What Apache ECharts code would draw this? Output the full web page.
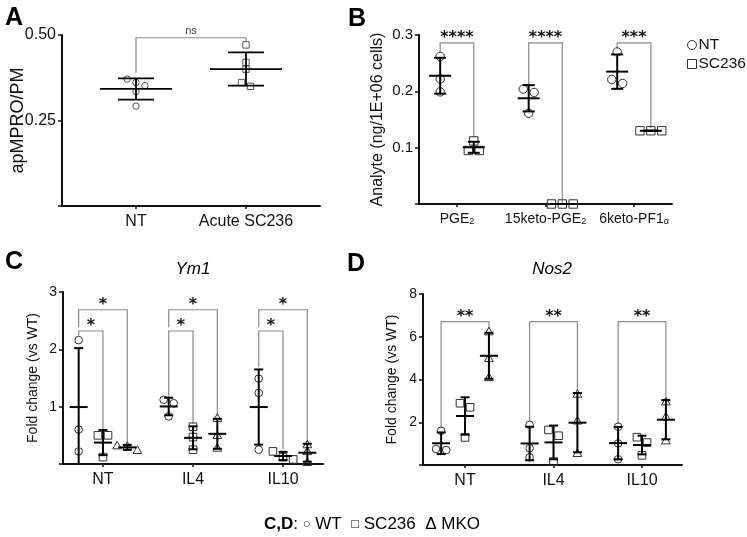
<!DOCTYPE html>
<html>
<head>
<meta charset="utf-8">
<script src="https://cdn.jsdelivr.net/npm/echarts@6/dist/echarts.min.js"></script>
<style>html,body{margin:0;padding:0;background:#fff}#chart{width:747px;height:537px}</style>
</head>
<body>
<div id="chart"></div>
<script>
// ---------- DATA ----------
// Panel A
const catA = ['NT', 'Acute SC236'];
const aNT = [0.371, 0.352, 0.361, 0.335, 0.292];
const aSC236 = [0.471, 0.420, 0.400, 0.350, 0.361];
const aSigText = ['ns'];
const aSigTop = [0.492];
const aSigLeftEnd = [0.389];
const aSigRightEnd = [0.482];

// Panel B
const catB = [['PGE', '2'], ['15keto-PGE', '2'], ['6keto-PF1', 'α']];
const bNT = [[0.262, 0.222, 0.199], [0.204, 0.198, 0.161], [0.270, 0.221, 0.214]];
const bSC236 = [[0.112, 0.095, 0.095], [0, 0, 0], [0.130, 0.130, 0.130]];
const bSigText = ['****', '****', '***'];
const bSigTop = [0.286, 0.286, 0.286];
const bSigLeftEnd = [0.268, 0.213, 0.276];
const bSigRightEnd = [0.118, 0.0, 0.135];
const bLegend = ['NT', 'SC236'];

// Panels C and D
const catCD = ['NT', 'IL4', 'IL10'];
const cWT = [[2.16, 0.60, 0.22], [1.12, 1.06, 0.83], [1.49, 1.24, 0.25]];
const cSC236 = [[0.50, 0.50, 0.12], [0.65, 0.47, 0.25], [0.22, 0.12, 0.08]];
const cMKO = [[0.32, 0.31, 0.24], [0.80, 0.50, 0.28], [0.34, 0.22, 0.03]];
const cSigShortText = ['*', '*', '*'];
const cSigShortTop = [2.32, 2.32, 2.32];
const cSigShortLeftEnd = [2.24, 1.17, 1.69];
const cSigShortRightEnd = [0.56, 0.70, 0.26];
const cSigLongText = ['*', '*', '*'];
const cSigLongTop = [2.69, 2.69, 2.69];
const cSigLongLeftEnd = [2.38, 2.38, 2.38];
const cSigLongRightEnd = [0.36, 0.84, 0.38];

const dWT = [[1.60, 0.70, 0.75], [1.88, 0.78, 0.36], [1.79, 1.01, 0.27]];
const dSC236 = [[2.89, 2.70, 1.29], [1.64, 1.37, 0.16], [1.30, 1.05, 0.45]];
const dMKO = [[6.24, 4.99, 4.10], [3.32, 2.07, 0.55], [2.96, 2.26, 1.14]];
const dSigText = ['**', '**', '**'];
const dSigTop = [6.71, 6.71, 6.71];
const dSigLeftEnd = [1.76, 2.02, 1.92];
const dSigRightEnd = [6.36, 3.45, 3.10];

// ---------- HELPERS ----------
const FONT = "'Liberation Sans', Arial, Helvetica, sans-serif";
const INK = '#111';
function mean(a) { return a.reduce((s, v) => s + v, 0) / a.length; }
function sdev(a) { const m = mean(a); return Math.sqrt(a.reduce((s, v) => s + (v - m) * (v - m), 0) / (a.length - 1)); }

function symbolEl(kind, cx, cy, r, color) {
  const style = { fill: 'rgba(0,0,0,0)', stroke: color, lineWidth: 1 };
  if (kind === 'circle') return { type: 'circle', shape: { cx, cy, r }, style };
  if (kind === 'rect') return { type: 'rect', shape: { x: cx - r, y: cy - r, width: 2 * r, height: 2 * r }, style };
  return { type: 'polygon', shape: { points: [[cx, cy - r * 1.15], [cx - r * 1.15, cy + r * 0.85], [cx + r * 1.15, cy + r * 0.85]] }, style };
}

function swarm(vals, api, xv, r) {
  const pts = vals.map(v => ({ v, y: api.coord([xv, v])[1] })).sort((a, b) => a.y - b.y);
  const clusters = [];
  pts.forEach(p => {
    const last = clusters[clusters.length - 1];
    if (last && Math.abs(p.y - last[last.length - 1].y) < r * 1.7) last.push(p);
    else clusters.push([p]);
  });
  const out = [];
  clusters.forEach(c => c.forEach((p, k) => out.push({ y: p.y, dx: (k - (c.length - 1) / 2) * (2 * r + 2.5) })));
  return out;
}

function statSeries(o) {
  return {
    type: 'custom', name: o.name, xAxisIndex: o.ax, yAxisIndex: o.ax, z: 5, silent: true,
    data: o.groups.map((vals, g) => [g + o.off, mean(vals)]),
    encode: { x: 0, y: 1 },
    renderItem(params, api) {
      const vals = o.groups[params.dataIndex];
      const xv = api.value(0);
      const m = mean(vals), s = sdev(vals);
      const c = api.coord([xv, m]);
      const yTop = api.coord([xv, m + s])[1];
      const yBotRaw = api.coord([xv, m - s])[1];
      const yFloor = api.coord([xv, 0])[1];
      const clipped = yBotRaw > yFloor + 0.5;
      const yBot = clipped ? yFloor : yBotRaw;
      const children = [];
      swarm(vals, api, xv, o.r).forEach(p => children.push(symbolEl(o.kind, c[0] + p.dx, p.y, o.r, o.ptColor)));
      const ls = { stroke: '#000', lineWidth: o.lw };
      children.push({ type: 'line', shape: { x1: c[0] - o.meanHalf, y1: c[1], x2: c[0] + o.meanHalf, y2: c[1] }, style: ls });
      children.push({ type: 'line', shape: { x1: c[0], y1: yTop, x2: c[0], y2: yBot }, style: ls });
      children.push({ type: 'line', shape: { x1: c[0] - o.capHalf, y1: yTop, x2: c[0] + o.capHalf, y2: yTop }, style: ls });
      if (!clipped) children.push({ type: 'line', shape: { x1: c[0] - o.capHalf, y1: yBot, x2: c[0] + o.capHalf, y2: yBot }, style: ls });
      return { type: 'group', children };
    }
  };
}

function bracketSeries(ax, items, textStyle, dy) {
  return {
    type: 'custom', xAxisIndex: ax, yAxisIndex: ax, z: 4, silent: true,
    data: items.map(b => [b.x0, b.top]),
    encode: { x: 0, y: 1 },
    renderItem(params, api) {
      const b = items[params.dataIndex];
      const pL = api.coord([b.x0, b.top]), pR = api.coord([b.x1, b.top]);
      const yl = api.coord([b.x0, b.l])[1], yr = api.coord([b.x1, b.r])[1];
      return {
        type: 'group', children: [
          { type: 'polyline', shape: { points: [[pL[0], yl], [pL[0], pL[1]], [pR[0], pR[1]], [pR[0], yr]] }, style: { stroke: '#8a8a8a', lineWidth: 1.2, fill: null } },
          { type: 'text', x: (pL[0] + pR[0]) / 2, y: pL[1] + dy, style: Object.assign({ text: b.text, align: 'center', verticalAlign: 'middle' }, textStyle) }
        ]
      };
    }
  };
}

function brackets(g0off, g1off, text, top, l, r) {
  return text.map((t, g) => ({ x0: g + g0off, x1: g + g1off, top: top[g], l: l[g], r: r[g], text: t }));
}

function xAxisCfg(grid, min, max, cats, fontSize, extraLabel) {
  const vals = cats.map((_, i) => i);
  return {
    gridIndex: grid, type: 'value', min, max,
    axisLine: { show: true, onZero: false, lineStyle: { color: INK, width: 2 } },
    axisTick: { show: true, customValues: vals, length: 3, lineStyle: { color: INK, width: 1.5 } },
    axisLabel: Object.assign({ show: true, customValues: vals, fontSize, color: INK, fontFamily: FONT, margin: 8,
      formatter: v => cats[Math.round(v)] }, extraLabel || {}),
    splitLine: { show: false }
  };
}

function yAxisCfg(grid, min, max, interval, fmt, fontSize, name, nameSize, nameGap) {
  return {
    gridIndex: grid, type: 'value', min, max, interval,
    name, nameLocation: 'middle', nameGap, nameRotate: 90, nameMoveOverlap: false,
    nameTextStyle: { fontSize: nameSize, color: INK, fontFamily: FONT },
    axisLine: { show: true, onZero: false, lineStyle: { color: INK, width: 2 } },
    axisTick: { show: true, length: 4, lineStyle: { color: INK, width: 1.5 } },
    axisLabel: { show: true, fontSize, color: INK, fontFamily: FONT, margin: 6, formatter: fmt },
    splitLine: { show: false }
  };
}

const offB = [-0.19, 0.19];
const offCD = [-0.27, 0, 0.27];
const starStyle = { font: "bold 16px 'DejaVu Sans', sans-serif", fill: '#111' };

const option = {
  animation: false,
  backgroundColor: '#fff',
  grid: [
    { left: 62, top: 35, width: 258, height: 171, outerBoundsMode: 'none' },
    { left: 419, top: 35, width: 253, height: 169, outerBoundsMode: 'none' },
    { left: 63, top: 292, width: 260, height: 172, outerBoundsMode: 'none' },
    { left: 423, top: 294, width: 259, height: 171, outerBoundsMode: 'none' }
  ],
  xAxis: [
    xAxisCfg(0, -0.673, 1.673, catA, 16),
    xAxisCfg(1, -0.429, 2.429, catB, 14, {
      formatter: v => { const c = catB[Math.round(v)]; return '{n|' + c[0] + '}{s|' + c[1] + '}'; },
      rich: { n: { fontSize: 14, color: INK, fontFamily: FONT, verticalAlign: 'bottom' }, s: { fontSize: 9, color: INK, fontFamily: FONT, verticalAlign: 'bottom' } }
    }),
    xAxisCfg(2, -0.444, 2.444, catCD, 16),
    xAxisCfg(3, -0.475, 2.452, catCD, 16)
  ],
  yAxis: [
    yAxisCfg(0, 0, 0.5, 0.25, v => v === 0 ? '' : v.toFixed(2), 16, 'apMPRO/PM', 18, 35),
    yAxisCfg(1, 0, 0.3, 0.1, v => v === 0 ? '' : v.toFixed(1), 15, 'Analyte (ng/1E+06 cells)', 16, 33),
    yAxisCfg(2, 0, 3, 1, v => v === 0 ? '' : String(v), 14, 'Fold change (vs WT)', 14, 23),
    yAxisCfg(3, 0, 8, 2, v => v === 0 ? '' : String(v), 14, 'Fold change (vs WT)', 14, 24)
  ],
  legend: {
    data: [
      { name: bLegend[0], icon: 'circle', itemStyle: { color: '#fff', borderColor: '#333', borderWidth: 1 } },
      { name: bLegend[1], icon: 'rect', itemStyle: { color: '#fff', borderColor: '#333', borderWidth: 1 } }
    ],
    orient: 'vertical', left: 687, top: 37, itemWidth: 9, itemHeight: 9, itemGap: 3,
    selectedMode: false, padding: 0,
    textStyle: { fontSize: 15.5, color: INK, fontFamily: FONT, padding: [0, 0, 0, -3] }
  },
  graphic: [
    { type: 'text', x: 5, y: 18, style: { text: 'A', font: 'bold 25px ' + FONT, fill: '#000', verticalAlign: 'middle' } },
    { type: 'text', x: 348, y: 19, style: { text: 'B', font: 'bold 25px ' + FONT, fill: '#000', verticalAlign: 'middle' } },
    { type: 'text', x: 5, y: 262, style: { text: 'C', font: 'bold 25px ' + FONT, fill: '#000', verticalAlign: 'middle' } },
    { type: 'text', x: 347, y: 264, style: { text: 'D', font: 'bold 25px ' + FONT, fill: '#000', verticalAlign: 'middle' } },
    { type: 'text', x: 193, y: 269, style: { text: 'Ym1', font: 'italic 17px ' + FONT, fill: '#000', align: 'center', verticalAlign: 'middle' } },
    { type: 'text', x: 552, y: 269, style: { text: 'Nos2', font: 'italic 17px ' + FONT, fill: '#000', align: 'center', verticalAlign: 'middle' } },
    { type: 'text', x: 372, y: 524, style: {
      text: '{b|C,D}{n|: }{s|○}{n| WT  }{s|□}{n| SC236  Δ MKO}',
      align: 'center', verticalAlign: 'middle',
      rich: {
        b: { fontSize: 17, fontWeight: 'bold', fontFamily: FONT, fill: '#000' },
        n: { fontSize: 17, fontFamily: FONT, fill: '#000' },
        s: { fontSize: 13, fontFamily: FONT, fill: '#000' }
      }
    } }
  ],
  series: [
    // Panel A
    bracketSeries(0, brackets(0, 1, aSigText, aSigTop, aSigLeftEnd, aSigRightEnd), { font: '11px ' + FONT, fill: '#444' }, -7),
    statSeries({ name: 'A NT', ax: 0, groups: [aNT], off: 0, kind: 'circle', r: 3.2, meanHalf: 36, capHalf: 18, ptColor: '#555', lw: 1.8 }),
    statSeries({ name: 'A SC236', ax: 0, groups: [aSC236], off: 1, kind: 'rect', r: 3.2, meanHalf: 36, capHalf: 18, ptColor: '#555', lw: 1.8 }),
    // Panel B
    bracketSeries(1, brackets(offB[0], offB[1], bSigText, bSigTop, bSigLeftEnd, bSigRightEnd), starStyle, -5),
    statSeries({ name: bLegend[0], ax: 1, groups: bNT, off: offB[0], kind: 'circle', r: 4.2, meanHalf: 11, capHalf: 6, ptColor: '#333', lw: 2 }),
    statSeries({ name: bLegend[1], ax: 1, groups: bSC236, off: offB[1], kind: 'rect', r: 4.2, meanHalf: 11, capHalf: 6, ptColor: '#333', lw: 2 }),
    // Panel C
    bracketSeries(2, brackets(offCD[0], offCD[1], cSigShortText, cSigShortTop, cSigShortLeftEnd, cSigShortRightEnd), starStyle, -5),
    bracketSeries(2, brackets(offCD[0], offCD[2], cSigLongText, cSigLongTop, cSigLongLeftEnd, cSigLongRightEnd), starStyle, -5),
    statSeries({ name: 'C WT', ax: 2, groups: cWT, off: offCD[0], kind: 'circle', r: 3.8, meanHalf: 9, capHalf: 4.5, ptColor: '#333', lw: 2 }),
    statSeries({ name: 'C SC236', ax: 2, groups: cSC236, off: offCD[1], kind: 'rect', r: 3.8, meanHalf: 9, capHalf: 4.5, ptColor: '#333', lw: 2 }),
    statSeries({ name: 'C MKO', ax: 2, groups: cMKO, off: offCD[2], kind: 'triangle', r: 3.8, meanHalf: 9, capHalf: 4.5, ptColor: '#333', lw: 2 }),
    // Panel D
    bracketSeries(3, brackets(offCD[0], offCD[2], dSigText, dSigTop, dSigLeftEnd, dSigRightEnd), starStyle, -5),
    statSeries({ name: 'D WT', ax: 3, groups: dWT, off: offCD[0], kind: 'circle', r: 3.8, meanHalf: 9, capHalf: 4.5, ptColor: '#333', lw: 2 }),
    statSeries({ name: 'D SC236', ax: 3, groups: dSC236, off: offCD[1], kind: 'rect', r: 3.8, meanHalf: 9, capHalf: 4.5, ptColor: '#333', lw: 2 }),
    statSeries({ name: 'D MKO', ax: 3, groups: dMKO, off: offCD[2], kind: 'triangle', r: 3.8, meanHalf: 9, capHalf: 4.5, ptColor: '#333', lw: 2 })
  ]
};

const chart = echarts.init(document.getElementById('chart'), null, { renderer: 'canvas' });
chart.setOption(option);
</script>
</body>
</html>
